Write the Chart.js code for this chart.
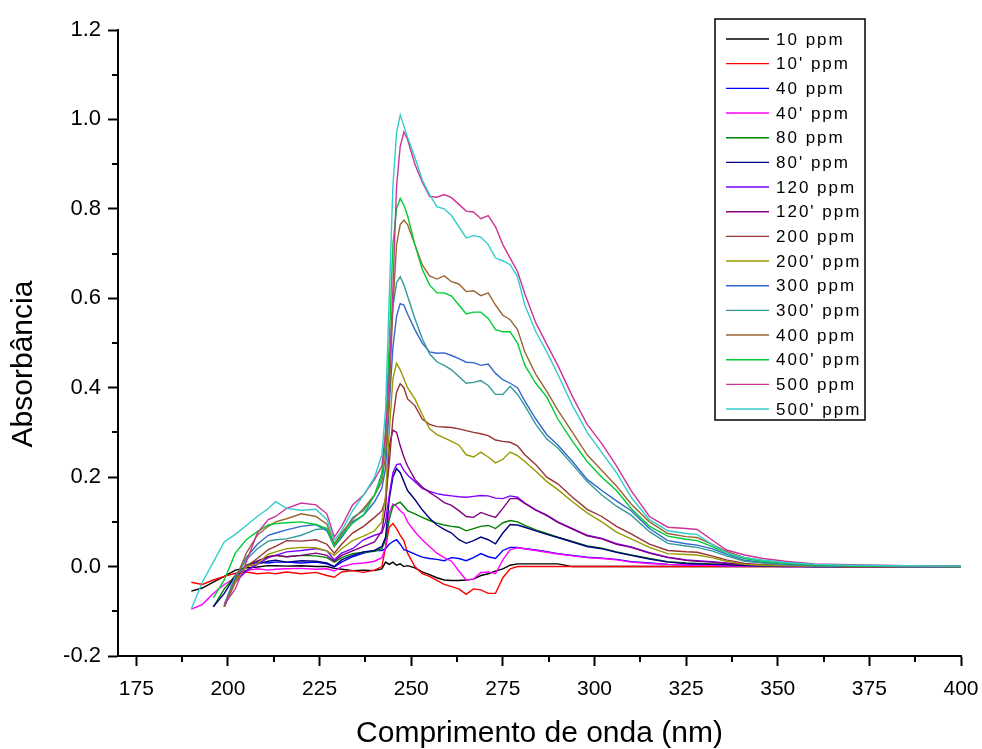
<!DOCTYPE html>
<html>
<head>
<meta charset="utf-8">
<title>Absorbância</title>
<script src="https://cdn.jsdelivr.net/npm/chart.js@4"></script>
<style>
  html, body { margin: 0; padding: 0; background: #fff; }
</style>
</head>
<body>
<canvas id="spectra" width="982" height="749"></canvas>
<script>
// wavelengths (nm) shared by every spectrum
const wavelengths = [190,193,196,199,202,205,208,211,213,216,
  220,224,227,229,231,234,237,240,242,243,
  244,245,246,247,248,249,251,253,255,257,
  259,261,263,265,267,269,271,273,275,277,
  279,281,284,287,290,294,298,302,306,310,
  315,320,325,328,332,336,341,346,352,360,
  370,385,400];

const seriesNames = ["10 ppm", "10' ppm", "40 ppm", "40' ppm", "80 ppm", "80' ppm",
  "120 ppm", "120' ppm", "200 ppm", "200' ppm", "300 ppm", "300' ppm",
  "400 ppm", "400' ppm", "500 ppm", "500' ppm"];

const ppm10 = [-0.055,-0.048,-0.035,-0.022,-0.008,-0.003,-0.001,0.002,0.002,0.001,
  0.002,0.000,0.000,-0.004,-0.006,-0.009,-0.008,-0.009,-0.005,0.010,
  0.005,0.010,0.003,0.006,0.000,0.002,-0.003,-0.012,-0.018,-0.025,
  -0.030,-0.031,-0.031,-0.030,-0.028,-0.020,-0.016,-0.010,-0.005,0.003,
  0.006,0.006,0.006,0.006,0.006,0,0,0,0,0,
  0,0,0,0,0,0,0,0,0,0,
  0,0,0];
const ppm10b = [-0.035,-0.040,-0.030,-0.022,-0.015,-0.012,-0.016,-0.014,-0.016,-0.012,
  -0.016,-0.013,-0.020,-0.024,-0.012,-0.009,-0.013,-0.008,0.000,0.043,
  0.088,0.096,0.085,0.070,0.058,0.030,0.000,-0.016,-0.022,-0.031,
  -0.040,-0.045,-0.050,-0.062,-0.050,-0.052,-0.060,-0.060,-0.025,-0.005,
  0,0,0,0,0,0,0,0,0,0,
  0,0,0,0,0,0,0,0,0,0,
  0,0,0];
const ppm40 = [null,null,null,-0.088,-0.030,0.000,0.010,0.008,0.010,0.010,
  0.008,0.010,0.006,-0.001,0.010,0.022,0.030,0.036,0.036,0.040,
  0.050,0.056,0.060,0.050,0.038,0.035,0.028,0.021,0.018,0.016,
  0.013,0.020,0.018,0.013,0.020,0.029,0.022,0.018,0.036,0.043,
  0.043,0.040,0.037,0.033,0.029,0.025,0.021,0.019,0.016,0.011,
  0.008,0.005,0.004,0.004,0.003,0.002,0.002,0.001,0,0,
  0,0,0];
const ppm40b = [-0.095,-0.085,-0.060,-0.040,-0.025,-0.009,-0.005,-0.008,-0.006,-0.005,
  -0.004,-0.006,-0.005,-0.010,0.000,0.006,0.008,0.012,0.020,0.043,
  0.120,0.140,0.135,0.125,0.118,0.100,0.078,0.060,0.045,0.030,
  0.020,0.012,-0.010,-0.030,-0.028,-0.013,-0.012,-0.016,0.015,0.038,
  0.042,0.040,0.036,0.032,0.028,0.024,0.020,0.018,0.015,0.010,
  0.007,0.005,0.004,0.003,0.003,0.002,0.002,0.001,0,0,
  0,0,0];
const ppm80 = [null,null,-0.090,-0.050,-0.020,0.003,0.012,0.022,0.025,0.022,
  0.025,0.024,0.020,0.010,0.020,0.029,0.032,0.034,0.040,0.060,
  0.105,0.135,0.140,0.144,0.135,0.125,0.118,0.110,0.103,0.097,
  0.093,0.090,0.088,0.080,0.085,0.090,0.092,0.085,0.098,0.103,
  0.100,0.092,0.082,0.074,0.066,0.056,0.046,0.041,0.033,0.026,
  0.018,0.011,0.008,0.007,0.006,0.005,0.003,0.002,0.001,0,
  0,0,0];
const ppm80b = [null,null,-0.090,-0.060,-0.020,-0.009,0.006,0.012,0.014,0.010,
  0.013,0.012,0.008,0.000,0.015,0.025,0.033,0.036,0.045,0.066,
  0.150,0.200,0.219,0.210,0.190,0.170,0.150,0.127,0.108,0.093,
  0.083,0.075,0.060,0.052,0.058,0.066,0.060,0.051,0.075,0.094,
  0.093,0.088,0.080,0.072,0.065,0.055,0.045,0.040,0.032,0.025,
  0.017,0.010,0.007,0.006,0.005,0.004,0.003,0.002,0.001,0,
  0,0,0];
const ppm120 = [null,null,null,-0.090,-0.035,-0.010,0.005,0.020,0.025,0.033,
  0.036,0.040,0.035,0.015,0.030,0.040,0.060,0.070,0.075,0.100,
  0.160,0.210,0.228,0.230,0.215,0.205,0.190,0.175,0.168,0.163,
  0.160,0.158,0.156,0.155,0.157,0.159,0.158,0.153,0.152,0.158,
  0.155,0.142,0.127,0.115,0.100,0.085,0.070,0.063,0.051,0.044,
  0.031,0.021,0.015,0.013,0.011,0.008,0.005,0.003,0.002,0.001,
  0,0,0];
const ppm120b = [null,null,null,-0.085,-0.030,0.000,0.012,0.022,0.025,0.022,
  0.025,0.030,0.025,0.012,0.025,0.035,0.045,0.055,0.080,0.130,
  0.270,0.305,0.300,0.270,0.245,0.225,0.195,0.178,0.166,0.155,
  0.143,0.137,0.125,0.112,0.110,0.121,0.115,0.110,0.130,0.152,
  0.152,0.141,0.126,0.114,0.099,0.084,0.069,0.062,0.050,0.043,
  0.030,0.020,0.014,0.012,0.010,0.007,0.005,0.003,0.002,0.001,
  0,0,0];
const ppm200 = [null,null,null,-0.090,-0.030,0.000,0.018,0.038,0.045,0.058,
  0.057,0.060,0.050,0.030,0.050,0.075,0.090,0.110,0.125,0.150,
  0.230,0.330,0.390,0.409,0.400,0.375,0.360,0.330,0.318,0.313,
  0.312,0.311,0.308,0.304,0.300,0.297,0.293,0.283,0.280,0.278,
  0.270,0.250,0.228,0.200,0.185,0.155,0.128,0.112,0.090,0.073,
  0.050,0.036,0.033,0.032,0.024,0.015,0.007,0.004,0.003,0.001,
  0,0,0];
const ppm200b = [null,null,null,-0.090,-0.035,0.000,0.006,0.028,0.033,0.040,
  0.043,0.042,0.035,0.025,0.040,0.058,0.068,0.080,0.100,0.160,
  0.300,0.420,0.455,0.440,0.420,0.400,0.375,0.340,0.308,0.295,
  0.288,0.280,0.272,0.250,0.245,0.256,0.245,0.232,0.240,0.256,
  0.248,0.235,0.213,0.190,0.172,0.145,0.120,0.100,0.077,0.062,
  0.043,0.029,0.027,0.026,0.020,0.012,0.005,0.003,0.002,0.001,
  0,0,0];
const ppm300 = [null,null,null,-0.090,-0.030,0.020,0.050,0.070,0.075,0.082,
  0.090,0.094,0.080,0.045,0.065,0.100,0.115,0.145,0.175,0.220,
  0.360,0.490,0.560,0.588,0.585,0.565,0.530,0.500,0.480,0.477,
  0.478,0.472,0.465,0.457,0.456,0.450,0.453,0.432,0.418,0.410,
  0.400,0.370,0.330,0.295,0.272,0.235,0.195,0.170,0.147,0.125,
  0.085,0.058,0.051,0.048,0.040,0.028,0.014,0.009,0.005,0.002,
  0.001,0,0];
const ppm300b = [null,null,null,-0.085,-0.020,0.015,0.040,0.057,0.060,0.062,
  0.070,0.083,0.085,0.050,0.070,0.110,0.125,0.160,0.210,0.280,
  0.450,0.580,0.635,0.648,0.630,0.605,0.555,0.510,0.476,0.458,
  0.450,0.440,0.425,0.410,0.412,0.416,0.405,0.385,0.385,0.403,
  0.385,0.360,0.318,0.285,0.265,0.228,0.190,0.160,0.135,0.115,
  0.078,0.052,0.046,0.043,0.035,0.024,0.012,0.008,0.004,0.002,
  0.001,0,0];
const ppm400 = [null,null,null,-0.090,-0.030,0.030,0.070,0.090,0.100,0.107,
  0.118,0.112,0.095,0.050,0.075,0.105,0.130,0.160,0.190,0.250,
  0.380,0.580,0.720,0.765,0.775,0.765,0.720,0.675,0.650,0.643,
  0.650,0.637,0.632,0.615,0.617,0.606,0.612,0.585,0.562,0.552,
  0.530,0.480,0.430,0.392,0.350,0.300,0.250,0.215,0.180,0.140,
  0.100,0.074,0.067,0.065,0.050,0.034,0.020,0.013,0.008,0.004,
  0.002,0.001,0];
const ppm400b = [null,null,-0.070,-0.030,0.030,0.060,0.078,0.093,0.096,0.098,
  0.100,0.094,0.085,0.045,0.070,0.097,0.115,0.160,0.200,0.300,
  0.500,0.720,0.800,0.823,0.808,0.785,0.720,0.665,0.630,0.612,
  0.612,0.605,0.585,0.565,0.569,0.569,0.555,0.530,0.525,0.525,
  0.500,0.450,0.410,0.379,0.330,0.280,0.235,0.200,0.170,0.130,
  0.090,0.068,0.061,0.058,0.045,0.030,0.018,0.012,0.008,0.004,
  0.002,0.001,0];
const ppm500 = [null,null,null,-0.085,-0.050,0.010,0.075,0.105,0.112,0.130,
  0.142,0.138,0.118,0.066,0.090,0.138,0.160,0.195,0.225,0.300,
  0.420,0.620,0.850,0.940,0.972,0.955,0.900,0.860,0.828,0.826,
  0.832,0.825,0.810,0.795,0.793,0.778,0.785,0.760,0.720,0.690,
  0.660,0.610,0.545,0.497,0.450,0.380,0.318,0.275,0.225,0.170,
  0.112,0.088,0.085,0.083,0.060,0.037,0.026,0.018,0.012,0.006,
  0.004,0.002,0.001];
const ppm500b = [-0.095,-0.035,0.010,0.055,0.072,0.092,0.112,0.130,0.145,0.130,
  0.126,0.128,0.105,0.058,0.080,0.125,0.160,0.200,0.250,0.350,
  0.600,0.850,0.970,1.010,0.985,0.960,0.915,0.865,0.832,0.805,
  0.800,0.785,0.760,0.735,0.740,0.737,0.720,0.690,0.684,0.675,
  0.648,0.585,0.525,0.480,0.430,0.360,0.300,0.255,0.210,0.155,
  0.105,0.080,0.074,0.072,0.050,0.030,0.020,0.014,0.009,0.005,
  0.003,0.002,0.001];

const seriesValues = [ppm10, ppm10b, ppm40, ppm40b, ppm80, ppm80b, ppm120, ppm120b,
  ppm200, ppm200b, ppm300, ppm300b, ppm400, ppm400b, ppm500, ppm500b];

const lineColors = ["#000000", "#FF0000", "#0000FF", "#FF00FF", "#008000", "#000080",
  "#8000FF", "#800080", "#993333", "#999900", "#3366CC", "#339999",
  "#996633", "#00CC33", "#CC3399", "#33CCCC"];

const xTicks = [175, 200, 225, 250, 275, 300, 325, 350, 375, 400];
const xMinor = [187.5, 212.5, 237.5, 262.5, 287.5, 312.5, 337.5, 362.5, 387.5];
const yTicks = [-0.2, 0, 0.2, 0.4, 0.6, 0.8, 1.0, 1.2];
const yMinor = [-0.1, 0.1, 0.3, 0.5, 0.7, 0.9, 1.1];

const yTitle = "Absorbância";

// minor tick marks, placed through the scales
const minorTicks = {
  id: "minorTicks",
  afterDraw(chart) {
    const { ctx, chartArea, scales } = chart;
    ctx.save();
    ctx.strokeStyle = "#000";
    ctx.lineWidth = 2;
    ctx.beginPath();
    xMinor.forEach(v => {
      const px = Math.round(scales.x.getPixelForValue(v));
      ctx.moveTo(px, chartArea.bottom);
      ctx.lineTo(px, chartArea.bottom + 6);
    });
    yMinor.forEach(v => {
      const py = Math.round(scales.y.getPixelForValue(v));
      ctx.moveTo(chartArea.left, py);
      ctx.lineTo(chartArea.left - 6, py);
    });
    ctx.stroke();
    ctx.restore();
  }
};

// y title sits a little below the middle of the axis in the original
const sideTitle = {
  id: "sideTitle",
  afterDraw(chart) {
    const ctx = chart.ctx;
    ctx.save();
    ctx.translate(24, 364);
    ctx.rotate(-Math.PI / 2);
    ctx.font = "30px 'Liberation Sans', Arial, sans-serif";
    ctx.fillStyle = "#000";
    ctx.textAlign = "center";
    ctx.textBaseline = "middle";
    ctx.fillText(yTitle, 0, 0);
    ctx.restore();
  }
};

// boxed legend in the upper right, Origin style
const boxLegend = {
  id: "boxLegend",
  afterDraw(chart) {
    const ctx = chart.ctx;
    const left = 715, top = 19, w = 150, h = 401, row = 24.67;
    ctx.save();
    ctx.fillStyle = "#fff";
    ctx.fillRect(left, top, w, h);
    ctx.strokeStyle = "#000";
    ctx.lineWidth = 1.5;
    ctx.strokeRect(left, top, w, h);
    ctx.font = "17px 'Liberation Sans', Arial, sans-serif";
    ctx.letterSpacing = "2px";
    ctx.textBaseline = "middle";
    chart.data.datasets.forEach((ds, i) => {
      const y = top + 20 + i * row;
      ctx.strokeStyle = ds.borderColor;
      ctx.lineWidth = 1.4;
      ctx.beginPath();
      ctx.moveTo(left + 11, y);
      ctx.lineTo(left + 54, y);
      ctx.stroke();
      ctx.fillStyle = "#000";
      ctx.fillText(ds.label, left + 61, y + 1);
    });
    ctx.restore();
  }
};

const datasets = seriesNames.map((name, i) => ({
  label: name,
  data: wavelengths.map((w, j) => ({ x: w, y: seriesValues[i][j] })),
  borderColor: lineColors[i],
  borderWidth: 1.4,
  pointRadius: 0,
  tension: 0,
  spanGaps: false,
  order: -i
}));

new Chart(document.getElementById("spectra").getContext("2d"), {
  type: "line",
  data: { datasets: datasets },
  options: {
    responsive: false,
    animation: false,
    layout: { padding: { left: 0, right: 21, top: 30, bottom: 0 } },
    plugins: {
      legend: { display: false },
      tooltip: { enabled: false }
    },
    scales: {
      x: {
        type: "linear",
        min: 170,
        max: 400,
        afterBuildTicks: s => { s.ticks = xTicks.map(v => ({ value: v })); },
        afterFit: s => { s.height = 93; s.paddingLeft = 0; s.paddingRight = 0; },
        border: { display: true, color: "#000", width: 2 },
        grid: { drawOnChartArea: false, drawTicks: true, tickLength: 10, tickWidth: 2, tickColor: "#000" },
        ticks: {
          color: "#000",
          padding: 11,
          maxRotation: 0,
          font: { family: "'Liberation Sans Narrow', 'Liberation Sans', Arial, sans-serif", size: 21 }
        },
        title: {
          display: true,
          text: "Comprimento de onda (nm)",
          color: "#000",
          padding: { top: 0, bottom: 0 },
          font: { family: "'Liberation Sans', Arial, sans-serif", size: 30, lineHeight: 1 }
        }
      },
      y: {
        type: "linear",
        min: -0.2,
        max: 1.2,
        afterBuildTicks: s => { s.ticks = yTicks.map(v => ({ value: v })); },
        afterFit: s => { s.width = 118; },
        border: { display: true, color: "#000", width: 2 },
        grid: { drawOnChartArea: false, drawTicks: true, tickLength: 10, tickWidth: 2, tickColor: "#000" },
        ticks: {
          color: "#000",
          padding: 7,
          font: { family: "'Liberation Sans', Arial, sans-serif", size: 22 },
          callback: v => v.toFixed(1)
        },
        title: { display: false }
      }
    }
  },
  plugins: [minorTicks, sideTitle, boxLegend]
});
</script>
</body>
</html>
